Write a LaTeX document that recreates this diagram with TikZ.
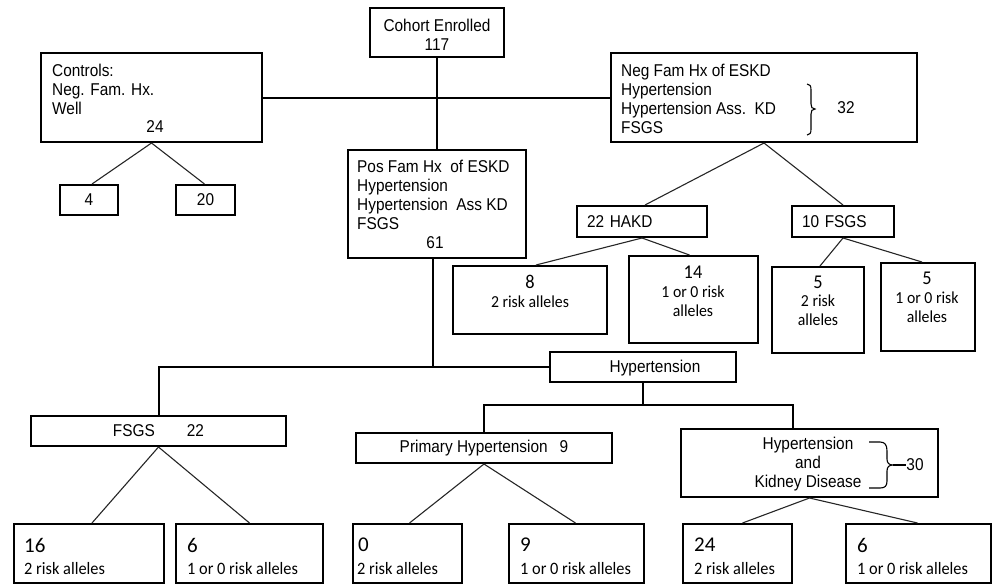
\documentclass[tikz,border=0pt]{standalone}
\usepackage{fontspec}
\setmainfont[FakeStretch=0.9]{Liberation Sans}
\newfontfamily\calib[FakeStretch=0.94]{Carlito}
\newfontfamily\calibn{Carlito}
\newcommand\mybox[7][]{\node[box,#1,minimum width={#5-#3},minimum height={#6-#4}] (#2) at ({(#3+#5)/2},{(#4+#6)/2}) {#7};}
\begin{document}
\begin{tikzpicture}[x=1pt,y=-1pt,
 box/.style={draw=black,line width=2pt,inner sep=0pt},
 boxt/.style={font=\fontsize{17.1}{19}\selectfont},
 conn/.style={line width=2pt},
 thinconn/.style={line width=1.2pt},
 branch/.style={line width=1.1pt,draw=black!85},
 brc/.style={line width=1.1pt},
 txtl/.style={inner sep=0pt,anchor=west,align=left,font=\fontsize{17.1}{19}\selectfont},
 txtc/.style={inner sep=0pt,align=center,font=\fontsize{17.1}{19}\selectfont},
 numm/.style={inner sep=0pt,font=\calib\fontsize{19.5}{20}\selectfont},
 allm/.style={inner sep=0pt,align=center,font=\calib\fontsize{16.8}{19}\selectfont},
 numb/.style={inner sep=0pt,anchor=west,font=\calibn\fontsize{21}{24}\selectfont},
 allb/.style={inner sep=0pt,anchor=west,font=\calib\fontsize{17.4}{19}\selectfont}]

\useasboundingbox (0,0) rectangle (992,584);

% boxes
\mybox{coh}{370}{8}{504}{57}{}
\mybox{ctl}{41}{53}{262}{142}{}
\mybox[boxt]{c4}{60}{185}{118}{215}{4}
\mybox[boxt]{c20}{176}{185}{235}{215}{20}
\mybox{neg}{611}{53}{917}{142}{}
\mybox{pos}{348}{150}{526}{258}{}
\mybox[boxt,align=left,text width=110pt,inner xsep=10pt]{hakd}{577}{206}{707}{237}{22 HAKD}
\mybox[boxt,align=left,text width=82pt,inner xsep=10pt]{fsg10}{792}{206}{894}{237}{10 FSGS}
\mybox{a8}{453}{266}{607}{334}{}
\mybox{b14}{629}{256}{758}{343}{}
\mybox{c5a}{772}{267}{864}{353}{}
\mybox{c5b}{881}{263}{975}{351}{}
\mybox{hyp}{550}{352}{736}{382}{}
\mybox[boxt]{fs22}{31}{416}{286}{446}{FSGS\hspace{32pt}22}
\mybox[boxt]{prim}{356}{433}{612}{463}{Primary Hypertension\hspace{12pt}9}
\mybox{hkd}{681}{429}{938}{497}{}
\mybox{b16}{14}{524}{164}{583}{}
\mybox{b6}{176}{524}{323}{583}{}
\mybox{z0}{353}{524}{462}{583}{}
\mybox{z9}{509}{524}{644}{583}{}
\mybox{b24}{683}{524}{792}{583}{}
\mybox{b6r}{846}{524}{991}{583}{}

% texts
\node[txtc] (tcoh) at (437,35) {Cohort Enrolled\\117};
\node[txtl] (tctl) at (52,89) {Controls:\\Neg. Fam. Hx.\\Well};
\node[txtc] (t24) at (155,127) {24};
\node[txtl] (tneg) at (621,98.5) {Neg Fam Hx~of ESKD\\Hypertension\\Hypertension Ass.~~KD\\FSGS};
\node[txtc] (t32) at (846,108) {32};
\node[txtl] (tpos) at (357,194.5) {Pos Fam Hx~~of ESKD\\Hypertension\\Hypertension~~Ass KD\\FSGS};
\node[txtc] (t61) at (435,243) {61};
\node[numm] (n8) at (530,282) {8};
\node[allm] (l8) at (530,302) {2 risk alleles};
\node[numm] (n14) at (693,272) {14};
\node[allm] (l14) at (693,301) {1 or 0 risk\\alleles};
\node[numm] (n5a) at (818,282) {5};
\node[allm] (l5a) at (818,310.5) {2 risk\\alleles};
\node[numm] (n5b) at (927,278) {5};
\node[allm] (l5b) at (927,307.5) {1 or 0 risk\\alleles};
\node[txtc] (thyp) at (655,368) {Hypertension};
\node[txtc] (thkd) at (808,464) {Hypertension\\and\\Kidney Disease};
\node[txtc] (t30) at (915,465) {30};
\node[numb] (n16) at (24,545) {16};
\node[allb] (l16) at (24,569) {2 risk alleles};
\node[numb] (n6) at (187,545) {6};
\node[allb] (l6) at (187,569) {1 or 0 risk alleles};
\node[numb] (n0) at (358,545) {0};
\node[allb] (l0) at (357,569) {2 risk alleles};
\node[numb] (n9) at (520,545) {9};
\node[allb] (l9) at (520,569) {1 or 0 risk alleles};
\node[numb] (n24) at (694,545) {24};
\node[allb] (l24) at (694,569) {2 risk alleles};
\node[numb] (n6r) at (857,545) {6};
\node[allb] (l6r) at (857,569) {1 or 0 risk alleles};

% connectors
\draw[conn] (ctl.east) -- (neg.west);
\draw[conn] (coh.south) -- (pos.north);
\draw[branch] (ctl.south) -- ([xshift=3pt]c4.north);
\draw[branch] (ctl.south) -- ([xshift=-1pt]c20.north);
\draw[branch] (neg.south) -- ([xshift=3pt]hakd.north);
\draw[branch] (neg.south) -- (fsg10.north);
\draw[branch] (hakd.south) -- ([xshift=6pt]a8.north);
\draw[branch] (hakd.south) -- ([xshift=-4pt]b14.north);
\draw[branch] (fsg10.south) -- ([xshift=2pt]c5a.north);
\draw[branch] (fsg10.south) -- ([xshift=-6pt]c5b.north);
\coordinate (pj) at (433,367);
\draw[conn] (pos.south -| pj) -- (pj);
\draw[conn] (hyp.west) -- (fs22.north |- hyp.west) -- (fs22.north);
\coordinate (hj) at (643,405);
\coordinate (hr) at (793,405);
\draw[thinconn] (hyp.south) -- (hyp.south |- hj);
\draw[conn] (prim.north) -- (prim.north |- hj) -- (hr) -- (hkd.north -| hr);
\draw[branch] (fs22.south) -- ([xshift=3pt]b16.north);
\draw[branch] (fs22.south) -- (b6.north);
\draw[branch] (prim.south) -- ([xshift=2pt]z0.north);
\draw[branch] (prim.south) -- ([xshift=-1pt]z9.north);
\draw[branch] (hkd.south) -- ([xshift=5pt]b24.north);
\draw[branch] (hkd.south) -- ([xshift=-1pt]b6r.north);

% braces
\draw[brc] (807,84) .. controls (810,84) and (811,86) .. (811,90) -- (811,104) .. controls (811,107) and (812,109) .. (815,109) .. controls (812,109) and (811,111) .. (811,114) -- (811,129) .. controls (811,133) and (810,135) .. (807,135);
\draw[brc] (869,442) -- (880,442) .. controls (885,442) and (887,445) .. (887,451) -- (887,459) .. controls (887,463) and (889,465) .. (893,465) .. controls (889,465) and (887,467) .. (887,471) -- (887,481) .. controls (887,486) and (885,488) .. (880,488) -- (869,488);
\draw[brc] (893,465) -- (t30.west);
\end{tikzpicture}
\end{document}
